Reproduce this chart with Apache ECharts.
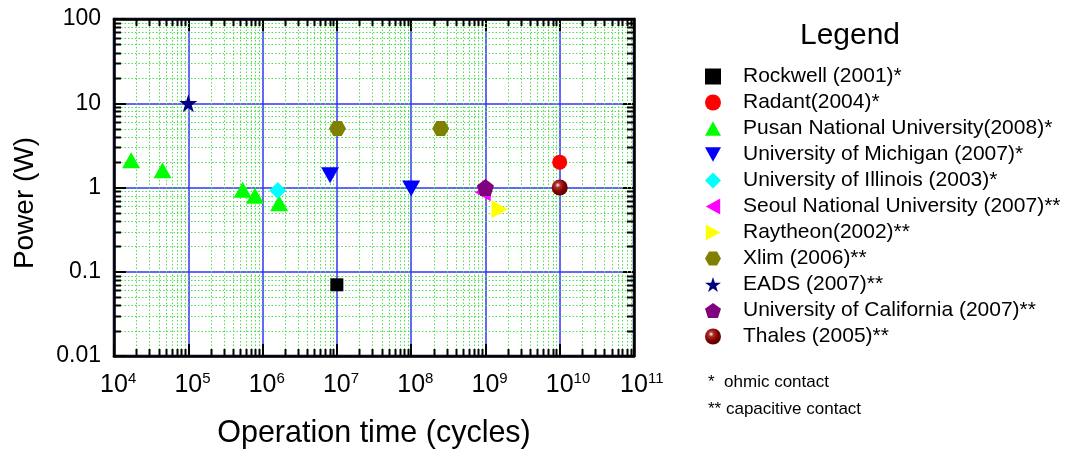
<!DOCTYPE html>
<html>
<head>
<meta charset="utf-8">
<script src="https://cdn.jsdelivr.net/npm/echarts@6/dist/echarts.min.js"></script>
<style>
  html, body { margin: 0; padding: 0; background: #fff; }
  #chart { width: 1065px; height: 454px; }
</style>
</head>
<body>
<div id="chart"></div>
<script>
// ---------- data ----------
const seriesNames = [
  'Rockwell (2001)*',
  'Radant(2004)*',
  'Pusan National University(2008)*',
  'University of Michigan (2007)*',
  'University of Illinois (2003)*',
  'Seoul National University (2007)**',
  'Raytheon(2002)**',
  'Xlim (2006)**',
  'EADS (2007)**',
  'University of California (2007)**',
  'Thales (2005)**'
];
const rockwell = [[1e7, 0.07]];
const radant = [[1e10, 2]];
const pusan = [[1.7e4, 2.1], [4.5e4, 1.6], [5.4e5, 0.94], [7.9e5, 0.8], [1.67e6, 0.65]];
const michigan = [[8.1e6, 1.4], [1e8, 0.97]];
const illinois = [[1.6e6, 0.92]];
const seoul = [[9.2e8, 0.88]];
const raytheon = [[1.55e9, 0.55]];
const xlim = [[1.02e7, 5], [2.5e8, 5]];
const eads = [[1e5, 10]];
const ucal = [[1e9, 1]];
const thales = [[1e10, 1]];
const xTickExponents = [4, 5, 6, 7, 8, 9, 10, 11];
const yTickLabels = ['0.01', '0.1', '1', '10', '100'];
const notes = ['*  ohmic contact', '** capacitive contact'];
const legendTitle = 'Legend';
const xTitle = 'Operation time (cycles)';
const yTitle = 'Power (W)';

// ---------- styling ----------
const FONT = '"Liberation Sans", Arial, Helvetica, sans-serif';
const HEX = 'path://M25,0 L75,0 L100,43.3 L75,86.6 L25,86.6 L0,43.3 Z';
const STAR = 'path://M50,0 L61.8,36.2 L100,36.2 L69.1,58.8 L80.9,95.1 L50,72.7 L19.1,95.1 L30.9,58.8 L0,36.2 L38.2,36.2 Z';
const PENT = 'path://M50,0 L100,36.3 L80.9,95.1 L19.1,95.1 L0,36.3 Z';
const TRI_UP = 'path://M50,0 L100,90 L0,90 Z';
const TRI_DOWN = 'path://M0,0 L100,0 L50,90 Z';
const TRI_LEFT = 'path://M0,50 L90,0 L90,100 Z';
const TRI_RIGHT = 'path://M0,0 L90,50 L0,100 Z';
const sphere = {
  type: 'radial', x: 0.38, y: 0.35, r: 0.7,
  colorStops: [
    { offset: 0, color: '#ffffff' },
    { offset: 0.22, color: '#b03030' },
    { offset: 0.6, color: '#800000' },
    { offset: 1, color: '#5a0000' }
  ]
};
const styles = [
  { symbol: 'rect', size: 13, color: '#000000' },
  { symbol: 'circle', size: 15, color: '#ff0000' },
  { symbol: TRI_UP, size: [18, 16], color: '#00ff00' },
  { symbol: TRI_DOWN, size: [18, 16], color: '#0000ff' },
  { symbol: 'diamond', size: 17, color: '#00ffff' },
  { symbol: TRI_LEFT, size: [16, 18], color: '#ff00ff' },
  { symbol: TRI_RIGHT, size: [16, 18], color: '#ffff00' },
  { symbol: HEX, size: [17, 15], color: '#808000' },
  { symbol: STAR, size: 18, color: '#000080' },
  { symbol: PENT, size: 17, color: '#800080' },
  { symbol: 'circle', size: 16, color: sphere }
];
const seriesData = [rockwell, radant, pusan, michigan, illinois, seoul, raytheon, xlim, eads, ucal, thales];

// minor tick positions (2..9 within each decade) — axis decoration
const xMinor = [];
for (let e = xTickExponents[0]; e < xTickExponents[xTickExponents.length - 1]; e++) {
  for (let m = 2; m <= 9; m++) xMinor.push([m * Math.pow(10, e), 1]);
}
const yMinor = [];
for (let e = -2; e < 2; e++) {
  for (let m = 2; m <= 9; m++) yMinor.push([1e5, m * Math.pow(10, e)]);
}

const GRID_GREEN = '#4fe04f';
function renderXMinor(params, api) {
  const cs = params.coordSys;
  const x = Math.round(api.coord([api.value(0), 1])[0]) + 0.5;
  const top = cs.y, bottom = cs.y + cs.height;
  return { type: 'group', children: [
    { type: 'line', shape: { x1: x, y1: top, x2: x, y2: bottom }, style: { stroke: GRID_GREEN, lineWidth: 1, lineDash: [1.5, 2] }, z2: 1 },
    { type: 'line', shape: { x1: x, y1: bottom, x2: x, y2: bottom - 7 }, style: { stroke: '#000', lineWidth: 2 }, z2: 5 },
    { type: 'line', shape: { x1: x, y1: top, x2: x, y2: top + 7 }, style: { stroke: '#000', lineWidth: 2 }, z2: 5 }
  ]};
}
function renderYMinor(params, api) {
  const cs = params.coordSys;
  const y = Math.round(api.coord([1e5, api.value(1)])[1]) + 0.5;
  const left = cs.x, right = cs.x + cs.width;
  return { type: 'group', children: [
    { type: 'line', shape: { x1: left, y1: y, x2: right, y2: y }, style: { stroke: GRID_GREEN, lineWidth: 1, lineDash: [1.5, 2] }, z2: 1 },
    { type: 'line', shape: { x1: left, y1: y, x2: left + 7, y2: y }, style: { stroke: '#000', lineWidth: 2 }, z2: 5 },
    { type: 'line', shape: { x1: right, y1: y, x2: right - 7, y2: y }, style: { stroke: '#000', lineWidth: 2 }, z2: 5 }
  ]};
}

const commonAxis = {
  type: 'log', logBase: 10,
  axisLine: { show: true, onZero: false, lineStyle: { color: '#000', width: 2.5 } },
  axisTick: { show: true, inside: true, length: 12, lineStyle: { color: '#000', width: 2 } },
  minorTick: { show: false },
  minorSplitLine: { show: false }
};

function xLabel(val) {
  const e = Math.round(Math.log10(val));
  return '{h|' + e + '}{b|10}{s|' + e + '}';
}
function yLabel(val) {
  const e = Math.round(Math.log10(val));
  return yTickLabels[e + 2];
}
const xRich = {
  h: { fontSize: 15, fontFamily: FONT, color: 'transparent', verticalAlign: 'top', lineHeight: 15 },
  b: { fontSize: 25, fontFamily: FONT, color: '#000', lineHeight: 28 },
  s: { fontSize: 15, fontFamily: FONT, color: '#000', verticalAlign: 'top', lineHeight: 15 }
};

const series = [
  { type: 'custom', name: 'xminor', data: xMinor, renderItem: renderXMinor, silent: true, z: 1, clip: false, encode: { x: 0, y: 1 } },
  { type: 'custom', name: 'yminor', data: yMinor, renderItem: renderYMinor, silent: true, z: 1, clip: false, encode: { x: 0, y: 1 } }
];
seriesNames.forEach((n, i) => {
  const st = styles[i];
  series.push({
    type: 'scatter', name: n, data: seriesData[i],
    symbol: st.symbol, symbolSize: st.size,
    itemStyle: { color: st.color, opacity: 1 },
    z: 5
  });
});

const chart = echarts.init(document.getElementById('chart'), null, { renderer: 'canvas' });
chart.setOption({
  animation: false,
  backgroundColor: '#fff',
  grid: { left: 114, right: 431, top: 19, bottom: 97, show: true, borderColor: '#000', borderWidth: 2.5, backgroundColor: 'transparent' },
  xAxis: [
    Object.assign({}, commonAxis, {
      position: 'bottom', min: 1e4, max: 1e11, splitNumber: 7,
      axisLabel: { formatter: xLabel, rich: xRich, margin: 15 },
      splitLine: { show: true, lineStyle: { color: '#3535f5', width: 1.5 } },
      name: xTitle, nameLocation: 'middle', nameGap: 62,
      nameTextStyle: { fontSize: 30.5, fontFamily: FONT, color: '#000' }
    }),
    Object.assign({}, commonAxis, {
      position: 'top', min: 1e4, max: 1e11, splitNumber: 7,
      axisLabel: { show: false }, splitLine: { show: false }
    })
  ],
  yAxis: [
    Object.assign({}, commonAxis, {
      position: 'left', min: 0.01, max: 100, splitNumber: 4,
      axisLabel: { formatter: yLabel, fontSize: 23, fontFamily: FONT, color: '#000', margin: 13 },
      splitLine: { show: true, lineStyle: { color: '#3535f5', width: 1.5 } }
    }),
    Object.assign({}, commonAxis, {
      position: 'right', min: 0.01, max: 100, splitNumber: 4,
      axisLabel: { show: false }, splitLine: { show: false }
    })
  ],
  legend: {
    data: seriesNames,
    orient: 'vertical',
    left: 705, top: 66,
    itemWidth: 16, itemHeight: 16, itemGap: 5,
    padding: 0,
    textStyle: { fontSize: 21, fontFamily: FONT, color: '#000', padding: [0, 0, 0, 17] },
    selectedMode: false
  },
  graphic: [
    { type: 'text', x: 850, y: 36, style: { text: legendTitle, align: 'center', verticalAlign: 'middle', fontSize: 30, fontFamily: FONT, fill: '#000' } },
    { type: 'text', x: 25, y: 203, rotation: Math.PI / 2, style: { text: yTitle, align: 'center', verticalAlign: 'middle', fontSize: 28, fontFamily: FONT, fill: '#000' } },
    { type: 'text', x: 708, y: 382, style: { text: notes[0], align: 'left', verticalAlign: 'middle', fontSize: 17, fontFamily: FONT, fill: '#000' } },
    { type: 'text', x: 708, y: 409, style: { text: notes[1], align: 'left', verticalAlign: 'middle', fontSize: 17, fontFamily: FONT, fill: '#000' } }
  ],
  series: series
});
</script>
</body>
</html>
